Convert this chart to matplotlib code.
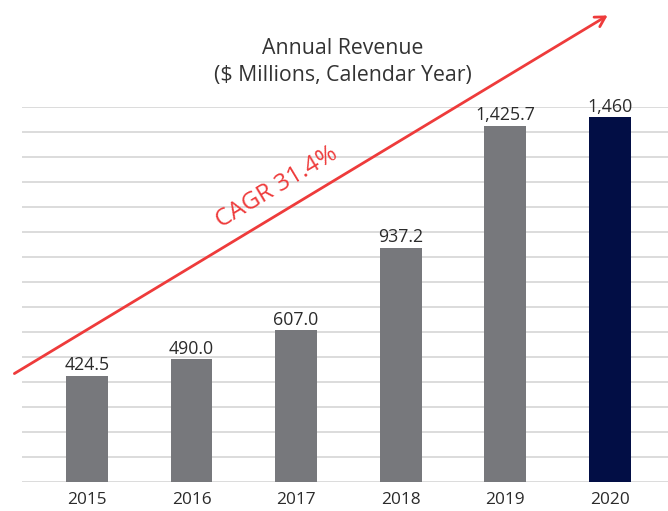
import matplotlib.pyplot as plt

plt.rcParams['font.family'] = ['Open Sans', 'DejaVu Sans']

years = ["2015", "2016", "2017", "2018", "2019", "2020"]
revenue = [424.5, 490.0, 607.0, 937.2, 1425.7, 1460]
value_labels = ["424.5", "490.0", "607.0", "937.2", "1,425.7", "1,460"]
bar_colors = ["#77787c"] * 5 + ["#020e45"]
cagr_text = "CAGR 31.4%"

fig = plt.figure(figsize=(6.68, 5.11), dpi=100)
ax = fig.add_axes([0.033, 0.0568, 0.967, 0.7338])

x = range(len(years))
ax.bar(x, revenue, width=0.4, color=bar_colors, zorder=3)

for i, (v, lab) in enumerate(zip(revenue, value_labels)):
    ax.annotate(lab, (i, v), xytext=(0, 1), textcoords="offset points",
                ha="center", va="bottom", fontsize=12.8, color="#2b2b2b")

ax.set_ylim(0, 1500)
ax.set_xlim(-0.62, 5.555)
ax.set_yticks(range(0, 1501, 100))
ax.yaxis.grid(True, color="#d9d9d9", linewidth=1.3, zorder=0)
ax.set_yticklabels([])
ax.set_xticks(list(x))
ax.set_xticklabels(years, fontsize=12.4, color="#2b2b2b")
ax.tick_params(length=0, pad=7)
for s in ax.spines.values():
    s.set_visible(False)

fig.text(0.513, 0.878, "Annual Revenue\n($ Millions, Calendar Year)",
         ha="center", va="center", fontsize=15.3, color="#333333",
         linespacing=1.38)

# growth arrow across the chart
fig.add_artist(plt.matplotlib.patches.FancyArrowPatch(
    (12 / 668, 136 / 511), (610 / 668, 497 / 511),
    transform=fig.transFigure, arrowstyle="->,head_length=7,head_width=4",
    color="#ee3b3b", linewidth=2, zorder=5))

fig.text(277 / 668, 1 - 187 / 511, cagr_text, rotation=31, ha="center",
         va="center", fontsize=17.5, color="#ee3b3b", rotation_mode="anchor")

fig.savefig("out.png", dpi=100)
